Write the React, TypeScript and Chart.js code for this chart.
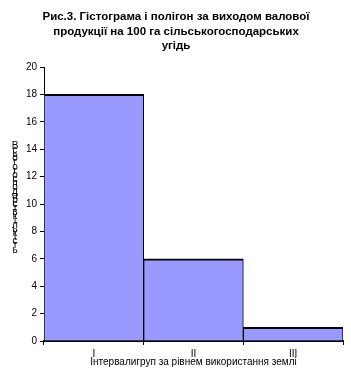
import React, { useEffect, useRef } from "react";
import { Chart, registerables } from "chart.js";

Chart.register(...registerables);

const categories = ["I", "II", "III"];
const frequencies = [18, 6, 1];
const titleLines = [
  "Рис.3. Гістограма і полігон за виходом валової",
  "продукції на 100 га сільськогосподарських",
  "угідь",
];
const xTitle = "Інтервалигруп за рівнем використання землі";
const yTitle = "Всього господарств кількість";
const yMin = 0;
const yMax = 20;
const yStep = 2;

const FONT = "'Liberation Sans', Arial, sans-serif";

const overlay = {
  id: "overlay",
  afterDraw(chart: any) {
    const ctx = chart.ctx;
    const area = chart.chartArea;
    ctx.save();
    ctx.fillStyle = "#000";
    ctx.textAlign = "center";
    ctx.textBaseline = "middle";
    ctx.font = `bold 11.5px ${FONT}`;
    titleLines.forEach((l, i) => ctx.fillText(l, 176, 17 + i * 14.5));
    ctx.font = `10px ${FONT}`;
    ctx.fillText(xTitle, (area.left + area.right) / 2, 362);
    ctx.font = `10px ${FONT}`;
    const chars = Array.from(yTitle.replace(/ /g, ""));
    const step = 108 / chars.length;
    chars.forEach((c, i) => ctx.fillText(c, 15, 146 + i * step));
    ctx.restore();
  },
};

export default function App() {
  const ref = useRef<HTMLCanvasElement>(null);
  useEffect(() => {
    document.body.style.margin = "0";
    const chart = new Chart(ref.current!, {
      type: "bar",
      data: {
        labels: categories,
        datasets: [
          {
            data: frequencies,
            backgroundColor: "#9999ff",
            borderColor: "#000",
            borderWidth: { top: 2, left: 1, right: 1, bottom: 0 },
            borderSkipped: false,
            barPercentage: 1,
            categoryPercentage: 1,
          },
        ],
      },
      options: {
        animation: false,
        responsive: false,
        maintainAspectRatio: false,
        layout: { padding: { top: 67, right: 8, left: 0, bottom: 0 } },
        plugins: { legend: { display: false }, tooltip: { enabled: false }, title: { display: false } },
        scales: {
          x: {
            offset: true,
            grid: { offset: true, drawOnChartArea: false, tickLength: 4, color: "#000" },
            border: { color: "#000", width: 2 },
            ticks: { color: "#000", font: { family: FONT, size: 10 }, padding: 3 },
            afterFit: (s: any) => {
              s.height = 47;
            },
          },
          y: {
            min: yMin,
            max: yMax,
            grid: { drawOnChartArea: false, tickLength: 4, color: "#000" },
            border: { color: "#000", width: 1 },
            ticks: { stepSize: yStep, color: "#000", font: { family: FONT, size: 10 }, padding: 3 },
            afterFit: (s: any) => {
              s.width = 44;
            },
          },
        },
      },
      plugins: [overlay],
    });
    return () => chart.destroy();
  }, []);
  return (
    <div style={{ position: "absolute", left: 0, top: 0, width: 351, height: 388 }}>
      <canvas ref={ref} width={351} height={388} style={{ width: 351, height: 388 }} />
    </div>
  );
}
